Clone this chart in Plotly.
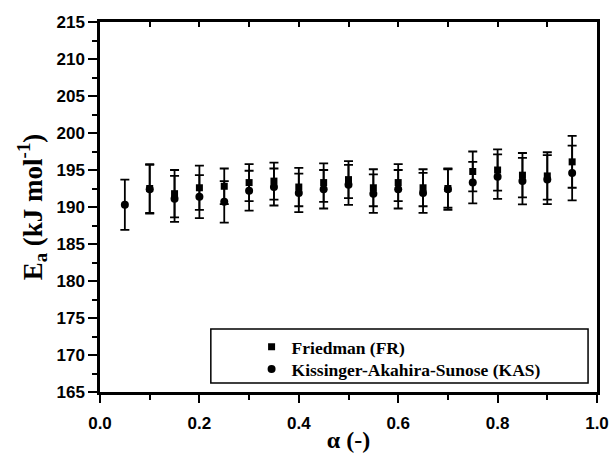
import plotly.graph_objects as go

alpha = [0.05, 0.10, 0.15, 0.20, 0.25, 0.30, 0.35, 0.40, 0.45, 0.50,
         0.55, 0.60, 0.65, 0.70, 0.75, 0.80, 0.85, 0.90, 0.95]
fr_ea = [None, 192.5, 191.8, 192.6, 192.8, 193.3, 193.5, 192.7, 193.3, 193.7,
         192.6, 193.3, 192.6, 192.5, 194.8, 195.0, 194.3, 194.2, 196.1]
fr_err = [None, 3.3, 3.2, 3.0, 2.4, 2.5, 2.5, 2.6, 2.6, 2.5,
          2.5, 2.5, 2.5, 2.6, 2.7, 2.8, 3.0, 3.2, 3.5]
kas_ea = [190.3, 192.4, 191.1, 191.4, 190.7, 192.2, 192.7, 191.9, 192.4, 193.0,
          191.8, 192.4, 191.9, 192.4, 193.3, 194.1, 193.5, 193.7, 194.6]
kas_err = [3.4, 3.3, 3.1, 2.9, 2.8, 2.7, 2.5, 2.6, 2.6, 2.7,
           2.6, 2.6, 2.7, 2.8, 2.8, 3.0, 3.15, 3.3, 3.7]

fig = go.Figure()
fig.add_trace(go.Scatter(
    x=alpha, y=fr_ea, mode="markers", name="Friedman (FR)", legend="legend",
    marker=dict(symbol="square", size=7, color="black"),
    error_y=dict(type="data", array=fr_err, visible=True, color="black",
                 thickness=1.8, width=4.5),
))
fig.add_trace(go.Scatter(
    x=alpha, y=kas_ea, mode="markers", name="Kissinger-Akahira-Sunose (KAS)",
    legend="legend2",
    marker=dict(symbol="circle", size=8, color="black"),
    error_y=dict(type="data", array=kas_err, visible=True, color="black",
                 thickness=1.8, width=4.5),
))
# transparent copy on a second (same-domain) subplot that carries the top frame axis
fig.add_trace(go.Scatter(x=alpha, y=kas_ea, xaxis="x2", yaxis="y2", mode="markers",
                         marker=dict(opacity=0, size=1), showlegend=False,
                         hoverinfo="skip"))

tickfont = dict(family="Liberation Sans", size=17, color="black", weight="bold")
titlefont = dict(family="Liberation Serif", size=24, color="black", weight="bold")
legfont = dict(family="Liberation Serif", size=17.5, color="black", weight="bold")

fig.update_layout(
    width=613, height=453,
    margin=dict(l=100, r=16, t=22, b=61),
    plot_bgcolor="rgba(0,0,0,0)", paper_bgcolor="white",
    showlegend=True,
    legend=dict(x=0.305, y=0.122, xanchor="left", yanchor="middle",
                bgcolor="rgba(0,0,0,0)", borderwidth=0, font=legfont),
    legend2=dict(x=0.305, y=0.062, xanchor="left", yanchor="middle",
                 bgcolor="rgba(0,0,0,0)", borderwidth=0, font=legfont),
    xaxis=dict(range=[0, 1.0], dtick=0.2, tick0=0, tickformat=".1f",
               ticks="outside", ticklen=8, tickwidth=2, tickcolor="black",
               minor=dict(dtick=0.1, ticks="outside", ticklen=5, tickwidth=2, tickcolor="black"),
               showline=True, linewidth=2.5, linecolor="black", mirror=True,
               showgrid=False, zeroline=False, tickfont=tickfont,
               ticklabelstandoff=6, automargin=False,
               title=dict(text="α (-)", font=titlefont, standoff=8)),
    xaxis2=dict(range=[0, 1.0], domain=[0, 1], side="top", anchor="y2",
                tickmode="linear", dtick=0.1, tick0=0, ticks="inside", ticklen=5,
                tickwidth=2, tickcolor="black", showticklabels=False, showline=True,
                linewidth=2.5, linecolor="black", showgrid=False, zeroline=False,
                automargin=False, fixedrange=True),
    yaxis2=dict(range=[165, 215], domain=[0, 1], anchor="x2", showline=False,
                showticklabels=False, ticks="", showgrid=False, zeroline=False,
                automargin=False, fixedrange=True),
    yaxis=dict(range=[165, 215], dtick=5, tick0=165,
               ticks="outside", ticklen=9, tickwidth=2, tickcolor="black",
               minor=dict(dtick=2.5, ticks="outside", ticklen=5, tickwidth=2, tickcolor="black"),
               showline=True, linewidth=2.5, linecolor="black", mirror=True,
               showgrid=False, zeroline=False, tickfont=tickfont, automargin=False,
               title=dict(text="E<sub>a</sub> (kJ mol<sup>-1</sup>)",
                          font=dict(family="Liberation Serif", size=27, color="black",
                                    weight="bold"),
                          standoff=7)),
    shapes=[dict(type="rect", xref="paper", yref="paper",
                 x0=0.223, x1=0.982, y0=0.024, y1=0.170,
                 line=dict(color="black", width=1.5), fillcolor="rgba(0,0,0,0)")],
)

fig.write_html("out.html", post_script="document.body.style.margin='0';",
               config={"displayModeBar": False})
